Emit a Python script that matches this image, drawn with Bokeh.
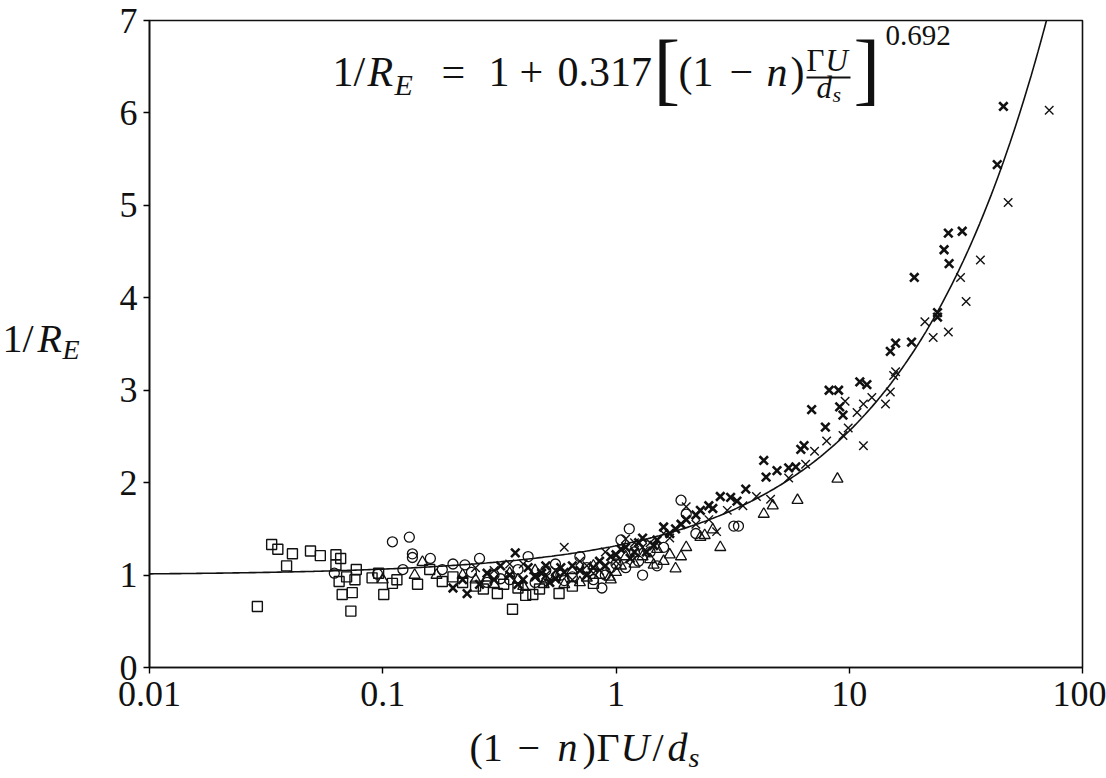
import numpy as np
from bokeh.plotting import figure
from bokeh.layouts import column
from bokeh.models import Label, FixedTicker, Range1d, CustomJSTickFormatter, BoxAnnotation
from bokeh.embed import file_html
from bokeh.resources import INLINE

# ---------------- data ----------------
sq_x = [0.029, 0.0334, 0.0355, 0.0387, 0.041, 0.049, 0.054, 0.063, 0.066, 0.063, 0.065, 0.070, 0.077, 0.076,
        0.067, 0.074, 0.073, 0.090, 0.096, 0.101, 0.110, 0.115, 0.141, 0.159, 0.18, 0.27, 0.31, 0.36, 0.41,
        0.44, 0.57, 0.80, 0.22, 0.25, 0.33, 0.20, 0.47, 0.65, 0.38]
sq_y = [0.66, 1.33, 1.28, 1.10, 1.23, 1.26, 1.21, 1.22, 1.18, 1.11, 0.93, 0.98, 1.06, 0.95,
        0.79, 0.81, 0.61, 0.97, 1.02, 0.79, 0.91, 0.95, 0.90, 1.06, 0.93, 0.85, 0.80, 0.63, 0.78,
        0.79, 0.80, 0.91, 0.92, 0.88, 0.90, 0.98, 0.85, 0.88, 0.86]

ci_x = [0.062, 0.095, 0.11, 0.13, 0.134, 0.134, 0.122, 0.16, 0.18, 0.2, 0.225, 0.26, 0.42, 0.87, 1.14, 1.3,
        1.9, 2.0, 3.2, 3.35, 0.3, 0.35, 0.5, 0.65, 0.75, 0.9, 1.0, 1.2, 0.28, 0.45, 0.55, 0.7, 1.6, 1.1,
        0.24, 0.38, 0.6, 1.5, 2.2, 1.05, 0.32, 0.48, 0.58, 0.8, 0.95, 1.25, 1.4]
ci_y = [1.02, 1.01, 1.36, 1.41, 1.23, 1.19, 1.06, 1.18, 1.06, 1.12, 1.11, 1.18, 1.20, 0.86, 1.50, 1.0,
        1.81, 1.66, 1.53, 1.53, 1.0, 0.95, 1.05, 0.98, 1.08, 1.0, 1.12, 1.25, 0.92, 0.92, 1.12, 1.2, 1.3, 1.08,
        1.03, 1.06, 0.94, 1.1, 1.45, 1.38, 0.96, 0.98, 1.0, 0.95, 1.08, 1.15, 1.25]

tr_x = [0.1, 0.137, 0.148, 0.17, 0.22, 0.25, 0.3, 0.35, 0.4, 0.45, 0.49, 0.55, 0.65, 0.7, 0.8, 0.94, 0.95,
        1.0, 1.1, 1.2, 1.4, 1.45, 1.5, 1.7, 1.8, 1.9, 2.3, 2.4, 2.6, 2.8, 4.3, 4.7, 6.0, 8.9,
        0.28, 0.38, 0.6, 0.75, 0.85, 1.05, 1.3, 1.6, 2.0, 0.5]
tr_y = [0.95, 1.0, 1.14, 1.0, 1.0, 0.95, 0.9, 1.02, 0.88, 1.05, 0.90, 0.98, 1.05, 0.92, 1.1, 0.98, 0.95,
        1.03, 1.2, 1.12, 1.17, 1.11, 1.28, 1.22, 1.07, 1.20, 1.41, 1.43, 1.49, 1.30, 1.66, 1.75, 1.81, 2.04,
        0.97, 0.95, 0.9, 0.97, 1.0, 1.1, 1.2, 1.15, 1.3, 0.95]

xx_x = [0.25, 0.3, 0.4, 0.5, 0.6, 0.7, 0.8, 0.9, 1.1, 1.2, 1.3, 1.7, 2.0, 2.5, 2.7, 3.0, 4.0, 4.6, 5.5,
        6.5, 7.1, 8.0, 9.4, 9.6, 9.9, 10.8, 11.5, 11.5, 12.5, 14.3, 15.0, 15.5, 15.8, 21.1, 22.9, 26.6,
        30.0, 31.7, 36.5, 48.0, 72.0, 0.35, 0.45, 0.55, 0.65, 0.75, 0.85, 1.0, 1.4, 1.6, 2.2, 3.5]
xx_y = [1.08, 1.05, 1.12, 1.0, 1.30, 1.15, 1.02, 1.25, 1.39, 1.35, 1.3, 1.4, 1.74, 1.6, 1.47, 1.7, 1.85, 1.82, 2.05,
        2.2, 2.34, 2.45, 2.51, 2.88, 2.59, 2.76, 2.85, 2.40, 2.92, 2.85, 2.98, 3.16, 3.20, 3.74, 3.57, 3.63,
        4.22, 3.96, 4.41, 5.03, 6.03, 1.12, 1.0, 1.05, 0.95, 1.1, 1.05, 1.15, 1.35, 1.45, 1.55, 1.75]

hx_x = [0.2, 0.23, 0.28, 0.3, 0.35, 0.37, 0.4, 0.42, 0.45, 0.5, 0.55, 0.6, 0.65, 0.75, 0.85, 0.95, 1.05, 1.15,
        1.25, 1.35, 1.5, 1.6, 1.7, 1.9, 2.2, 2.5, 2.8, 3.1, 3.6, 4.3, 4.4, 4.9, 5.5, 5.9, 6.2, 6.4, 6.9,
        7.9, 8.2, 9.0, 9.1, 9.4, 11.1, 11.9, 15.0, 15.8, 18.5, 19.0, 23.9, 23.9, 25.5, 26.6, 26.8, 30.5,
        43.1, 45.8, 0.22, 0.26, 0.32, 0.38, 0.48, 0.52, 0.58, 0.7, 0.8, 0.9, 1.0, 1.1, 1.2, 1.3, 1.45,
        1.8, 2.0, 2.3, 2.6, 3.3]
hx_y = [0.86, 0.80, 1.02, 0.95, 1.0, 1.24, 0.95, 1.08, 0.98, 1.1, 0.96, 1.03, 1.1, 1.0, 1.15, 1.2, 1.28, 1.18,
        1.35, 1.25, 1.38, 1.52, 1.45, 1.55, 1.65, 1.75, 1.85, 1.84, 1.93, 2.24, 2.06, 2.13, 2.16, 2.17, 2.36, 2.40, 2.79,
        2.60, 3.0, 3.0, 2.82, 2.73, 3.09, 3.06, 3.42, 3.51, 3.52, 4.22, 3.84, 3.79, 4.52, 4.70, 4.37, 4.72,
        5.44, 6.07, 0.95, 0.9, 1.1, 0.9, 1.02, 0.92, 1.08, 1.05, 1.08, 1.1, 1.22, 1.3, 1.25, 1.4, 1.32,
        1.5, 1.6, 1.7, 1.72, 1.8]

fit_a = 0.317
fit_b = 0.692
x_ticks = [0.01, 0.1, 1, 10, 100]
y_ticks = [0, 1, 2, 3, 4, 5, 6, 7]

# ---------------- layout constants ----------------
W, H = 1106, 778
PH = 724                       # height of the main figure; the x-axis title sits in a strip below it
FL, FB, FT, FR = 149, 667, 20, 1082  # frame edges in canvas px
SHIFT = 0.35                   # compensates the label baseline placement (fraction of font size)

p = figure(width=W, height=PH, x_axis_type="log", x_range=Range1d(0.01, 100), y_range=Range1d(0, 7),
           output_backend="svg", toolbar_location=None,
           min_border_left=FL, min_border_right=W - FR, min_border_top=FT, min_border_bottom=PH - FB)
p.grid.visible = False
p.background_fill_color = "white"
p.border_fill_color = "white"
p.outline_line_color = "#111111"
p.outline_line_width = 1.6
p.outline_line_alpha = 1.0

for ax in (p.xaxis[0], p.yaxis[0]):
    ax.axis_line_width = 1.6
    ax.axis_line_color = "#111111"
    ax.major_tick_in = 0
    ax.major_tick_out = 6
    ax.major_tick_line_width = 1.4
    ax.minor_tick_line_color = None
    ax.major_label_text_font = "Liberation Serif"
    ax.major_label_text_font_size = "36px"
    ax.major_label_text_color = "#111111"

p.xaxis.ticker = FixedTicker(ticks=x_ticks, minor_ticks=[])
p.xaxis.formatter = CustomJSTickFormatter(code="return tick.toString();")
p.xaxis.major_label_standoff = 8
p.yaxis.ticker = FixedTicker(ticks=y_ticks, minor_ticks=[])
p.yaxis.major_label_standoff = 6

# fit curve
cx = np.logspace(-2, 2, 400)
cy = 1 + fit_a * cx ** fit_b
p.line(cx, cy, line_color="#111111", line_width=1.6)

mk = dict(fill_color=None, line_color="#111111")
p.scatter(sq_x, sq_y, marker="square", size=10, line_width=1.4, **mk)
p.scatter(ci_x, ci_y, marker="circle", size=10, line_width=1.3, **mk)
p.scatter(tr_x, tr_y, marker="triangle", size=11, line_width=1.3, **mk)
p.scatter(xx_x, xx_y, marker="x", size=12, line_width=1.4, **mk)
p.scatter(hx_x, hx_y, marker="x", size=12, line_width=2.6, **mk)


def _label(x, y, units, text, size, italic):
    return Label(x=x, y=y, x_units=units, y_units=units, text=text,
                 text_font="Liberation Serif", text_font_size=f"{size}px",
                 text_font_style="italic" if italic else "normal",
                 text_color="#111111", text_baseline="alphabetic", text_align="left")


def lab(text, px, py, size, italic=False):
    """Label inside the frame; px/py = page position of left end / baseline."""
    p.add_layout(_label(px - FL, FB - (py - SHIFT * size), "screen", text, size, italic))


def lab_left(text, px, py, size, italic=False):
    """Label in the left side panel (outside the frame), canvas units."""
    p.add_layout(_label(px, py - SHIFT * size, "canvas", text, size, italic), "left")


# formula
B = 86
lab("1/", 332, B, 42)
lab("R", 367, B, 42, True)
lab("E", 394, B + 8, 30, True)
lab("=", 441, B, 42)
lab("1", 488, B, 42)
lab("+", 519, B, 42)
lab("0.317", 557, B, 42)
lab("[", 653, 95, 80)
lab("(1", 678, B, 42)
lab("\u2212", 729, B, 42)
lab("n", 766, B, 42, True)
lab(")", 790, B, 42)
lab("\u0393", 806, 71, 31)
lab("U", 825, 71, 31, True)
p.add_layout(BoxAnnotation(left=806 - FL, right=850 - FL, top=FB - 76, bottom=FB - 78,
                           left_units="screen", right_units="screen", top_units="screen", bottom_units="screen",
                           fill_color="#111111", fill_alpha=1, line_color=None))
lab("d", 816, 98, 31, True)
lab("s", 832, 102, 22, True)
lab("]", 853, 95, 80)
lab("0.692", 885, 45, 29)

# y-axis title
lab_left("1/", 2, 352, 40)
lab_left("R", 37, 352, 40, True)
lab_left("E", 62, 359, 28, True)

# ---------------- strip with the x-axis title ----------------
xt = figure(width=W, height=H - PH, x_range=Range1d(0, W), y_range=Range1d(0, H - PH),
            output_backend="svg", toolbar_location=None, min_border=0,
            x_axis_location=None, y_axis_location=None)
xt.grid.visible = False
xt.outline_line_color = None
xt.background_fill_color = "white"
xt.border_fill_color = "white"


def lab_x(text, px, py, size, italic=False):
    xt.add_layout(_label(px, (py - PH) - SHIFT * size, "canvas", text, size, italic))


XB = 761
lab_x("(1", 469, XB, 40)
lab_x("\u2212", 517, XB, 40)
lab_x("n", 557, XB, 40, True)
lab_x(")", 582, XB, 40)
lab_x("\u0393", 596, XB, 40)
lab_x("U", 620, XB, 40, True)
lab_x("/", 652, XB, 40)
lab_x("d", 667, XB, 40, True)
lab_x("s", 688, XB + 6, 28, True)

layout = column(p, xt, spacing=0)
open("out.html", "w").write(file_html(layout, INLINE))
